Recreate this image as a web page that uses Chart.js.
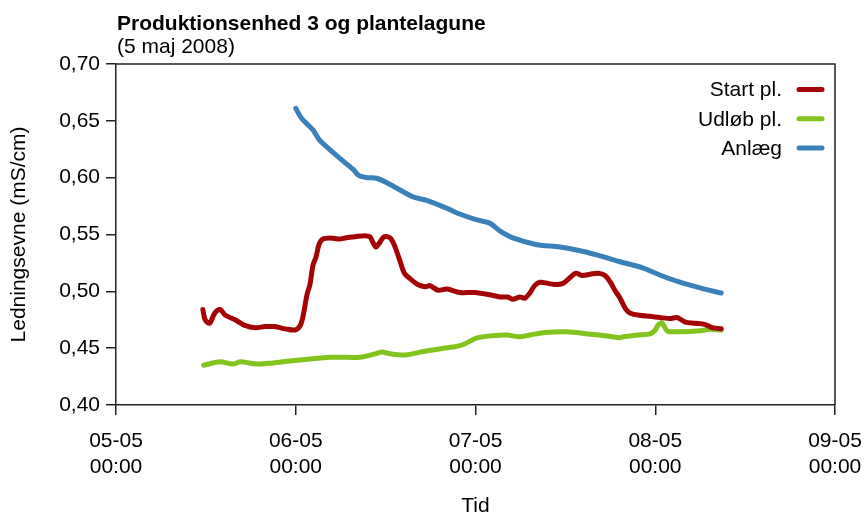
<!DOCTYPE html>
<html><head><meta charset="utf-8">
<script src="https://cdn.jsdelivr.net/npm/chart.js@4/dist/chart.umd.min.js"></script>
<style>html,body{margin:0;padding:0;background:#fff}</style>
</head><body>
<canvas id="c" width="864" height="517"></canvas>
<script>
// Hours since 05-05 00:00
const startHours = [11.6,11.9,12.5,13.2,13.9,14.6,15.9,17.2,18.6,19.9,21.2,22.6,23.9,24.6,25.0,25.5,25.9,26.3,26.7,27.1,27.6,28.6,29.9,30.6,31.9,33.2,33.9,34.3,34.7,35.1,35.8,36.6,37.2,37.9,38.5,39.3,40.3,41.3,41.9,43.0,44.2,45.9,47.9,49.9,51.3,52.3,53.0,53.9,54.6,55.3,55.9,56.6,57.7,58.6,59.7,60.6,61.4,62.2,63.3,64.4,65.3,66.0,66.6,67.3,68.0,68.6,69.9,71.3,72.6,74.0,74.9,76.0,77.3,78.6,79.6,80.8];
const startValues = [0.484,0.475,0.472,0.481,0.484,0.479,0.475,0.470,0.468,0.469,0.469,0.467,0.466,0.470,0.479,0.497,0.506,0.523,0.530,0.541,0.546,0.547,0.546,0.547,0.548,0.549,0.548,0.543,0.539,0.542,0.548,0.547,0.540,0.527,0.516,0.511,0.506,0.504,0.505,0.501,0.502,0.499,0.499,0.497,0.495,0.495,0.493,0.495,0.494,0.499,0.505,0.508,0.507,0.506,0.507,0.512,0.516,0.514,0.515,0.516,0.514,0.508,0.501,0.494,0.485,0.481,0.479,0.478,0.477,0.476,0.477,0.473,0.472,0.471,0.468,0.467];

const udlobHours = [11.7,13.9,15.6,16.6,18.8,21.0,23.2,25.2,28.6,32.6,34.6,35.5,36.6,38.6,41.0,43.7,45.0,46.3,48.2,50.3,52.2,53.9,55.3,57.0,60.2,62.9,65.6,67.3,67.7,69.6,71.3,72.0,72.4,72.9,73.6,75.3,78.0,79.3,80.8];
const udlobValues = [0.435,0.438,0.436,0.438,0.436,0.437,0.4387,0.440,0.442,0.442,0.445,0.4466,0.445,0.444,0.447,0.450,0.451,0.453,0.459,0.461,0.4616,0.460,0.4616,0.4636,0.4645,0.4625,0.4607,0.4592,0.460,0.4616,0.4625,0.466,0.4705,0.4723,0.4652,0.4645,0.4654,0.4667,0.466];

const anlaegHours = [24.0,24.8,26.3,27.2,29.9,31.7,32.4,33.5,34.8,36.6,39.7,41.5,44.2,45.9,48.1,49.9,51.3,53.0,56.2,59.3,62.4,65.0,67.3,70.4,72.6,75.3,78.0,80.8];
const anlaegValues = [0.661,0.652,0.642,0.633,0.617,0.607,0.602,0.600,0.5995,0.594,0.583,0.580,0.573,0.568,0.563,0.560,0.553,0.547,0.541,0.539,0.535,0.5305,0.526,0.5205,0.5144,0.508,0.503,0.4985];

const seriesNames = ['Start pl.', 'Udløb pl.', 'Anlæg'];
const seriesColors = ['#A50404', '#82C41E', '#3A80BB'];
const xTickLabels = [['05-05','00:00'],['06-05','00:00'],['07-05','00:00'],['08-05','00:00'],['09-05','00:00']];
const yTickLabels = ['0,40','0,45','0,50','0,55','0,60','0,65','0,70'];
const titleText = 'Produktionsenhed 3 og plantelagune';
const subtitleText = '(5 maj 2008)';
const xTitle = 'Tid';
const yTitle = 'Ledningsevne (mS/cm)';

const FONT = '"Liberation Sans", Arial, Helvetica, sans-serif';
const toPts = (hs, vs) => hs.map((h, i) => ({x: h, y: vs[i]}));
const allSeries = [toPts(startHours,startValues), toPts(udlobHours,udlobValues), toPts(anlaegHours,anlaegValues)];

const decor = {
  id: 'decor',
  afterDraw(chart) {
    const ctx = chart.ctx, a = chart.chartArea;
    ctx.save();
    ctx.strokeStyle = '#222'; ctx.lineWidth = 1.5;
    ctx.beginPath();
    ctx.moveTo(a.left, a.top); ctx.lineTo(a.right, a.top); ctx.lineTo(a.right, a.bottom);
    ctx.stroke();
    ctx.fillStyle = '#000'; ctx.textAlign = 'left'; ctx.textBaseline = 'alphabetic';
    ctx.font = 'bold 21px ' + FONT;
    ctx.fillText(titleText, 117, 30);
    ctx.font = '21px ' + FONT;
    ctx.fillText(subtitleText, 117, 53);
    ctx.font = '21px ' + FONT;
    ctx.textAlign = 'right'; ctx.textBaseline = 'middle';
    chart.data.datasets.forEach((ds, i) => {
      const y = 89.5 + i * 29.3;
      ctx.fillStyle = '#000';
      ctx.fillText(ds.label, 782, y + 1);
      ctx.strokeStyle = ds.borderColor; ctx.lineWidth = 5; ctx.lineCap = 'round';
      ctx.beginPath(); ctx.moveTo(799, y); ctx.lineTo(822, y); ctx.stroke();
    });
    ctx.restore();
  }
};

new Chart(document.getElementById('c'), {
  type: 'line',
  data: {
    datasets: allSeries.map((pts, i) => ({
      label: seriesNames[i], data: pts,
      borderColor: seriesColors[i], backgroundColor: seriesColors[i],
      borderWidth: 5, pointRadius: 0, tension: 0.3,
      borderCapStyle: 'round', borderJoinStyle: 'round', fill: false
    }))
  },
  options: {
    responsive: false, animation: false, devicePixelRatio: 1,
    layout: { padding: { top: 64, right: 29, left: 0, bottom: 0 } },
    plugins: { legend: { display: false }, title: { display: false }, tooltip: { enabled: false } },
    scales: {
      x: {
        type: 'linear', min: 0, max: 96,
        afterFit: s => { s.height = 112; s.paddingRight = 0; s.paddingLeft = 0; },
        afterBuildTicks: s => { s.ticks = xTickLabels.map((_, i) => ({ value: i * 24 })); },
        ticks: { callback: (v) => xTickLabels[Math.round(v / 24)], color: '#000', maxRotation: 0, autoSkip: false,
                 font: { family: FONT, size: 21, lineHeight: 1.25 }, padding: 13 },
        grid: { drawOnChartArea: false, drawTicks: true, tickLength: 10, color: '#222', lineWidth: 1.5 },
        border: { display: true, color: '#222', width: 1.5 },
        title: { display: true, text: xTitle, color: '#000', font: { family: FONT, size: 21, lineHeight: 1.0 }, padding: 0 }
      },
      y: {
        min: 0.4, max: 0.7,
        afterFit: s => { s.width = 116; s.paddingTop = 0; s.paddingBottom = 0; },
        afterBuildTicks: s => { s.ticks = yTickLabels.map((_, i) => ({ value: 0.4 + i * 0.05 })); },
        ticks: { callback: (v) => yTickLabels[Math.round((v - 0.4) / 0.05)], color: '#000',
                 font: { family: FONT, size: 21 }, padding: 6 },
        grid: { drawOnChartArea: false, drawTicks: true, tickLength: 10, color: '#222', lineWidth: 1.5 },
        border: { display: true, color: '#222', width: 1.5 },
        title: { display: true, text: yTitle, color: '#000', font: { family: FONT, size: 21, lineHeight: 1.2 }, padding: { top: 7, bottom: 0 } }
      }
    }
  },
  plugins: [decor]
});
</script>
</body></html>
